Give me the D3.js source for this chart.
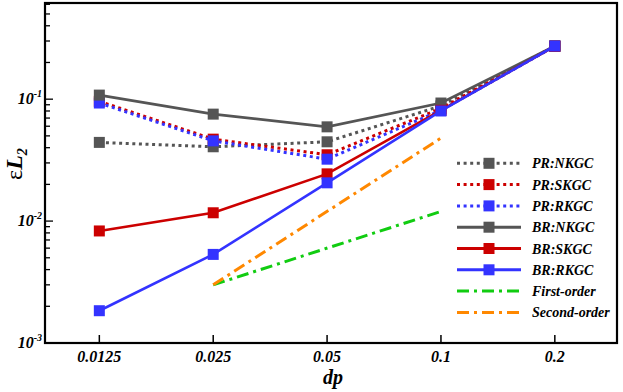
<!DOCTYPE html>
<html><head><meta charset="utf-8">
<script src="https://cdn.jsdelivr.net/npm/d3@7"></script>
<style>body{margin:0;background:#fff}svg{display:block}</style>
</head><body><svg id="c" width="623" height="392"></svg>
<script>
const dp = [0.0125, 0.025, 0.05, 0.1, 0.2];
const xTickLabels = ["0.0125", "0.025", "0.05", "0.1", "0.2"];
const yDecades = [-3, -2, -1];
const seriesNames = ["PR:NKGC","PR:SKGC","PR:RKGC","BR:NKGC","BR:SKGC","BR:RKGC","First-order","Second-order"];
const prNKGC = [0.0442, 0.0407, 0.0447, 0.088, 0.272];
const prSKGC = [0.096, 0.047, 0.0350, 0.084, 0.272];
const prRKGC = [0.093, 0.0455, 0.0322, 0.081, 0.272];
const brNKGC = [0.108, 0.0754, 0.0593, 0.093, 0.273];
const brSKGC = [0.0083, 0.0117, 0.0244, 0.081, 0.272];
const brRKGC = [0.00184, 0.00533, 0.0206, 0.080, 0.273];
const orderDp = [0.025, 0.1];
const firstOrder = [0.003, 0.012];
const secondOrder = [0.003, 0.048];

const gray="#555555", red="#cc0000", blue="#3333ff", green="#11cc11", orange="#ff8800";
const dotted="3,3.6", dashdot="12,5,3,5";
const series = [
 {name:seriesNames[0], x:dp, y:prNKGC, color:gray, dash:dotted, marker:true},
 {name:seriesNames[1], x:dp, y:prSKGC, color:red, dash:dotted, marker:true},
 {name:seriesNames[2], x:dp, y:prRKGC, color:blue, dash:dotted, marker:true},
 {name:seriesNames[3], x:dp, y:brNKGC, color:gray, dash:null, marker:true},
 {name:seriesNames[4], x:dp, y:brSKGC, color:red, dash:null, marker:true},
 {name:seriesNames[5], x:dp, y:brRKGC, color:blue, dash:null, marker:true},
 {name:seriesNames[6], x:orderDp, y:firstOrder, color:green, dash:dashdot, marker:false},
 {name:seriesNames[7], x:orderDp, y:secondOrder, color:orange, dash:dashdot, marker:false}
];

const L=45, R=617, T=3, B=343;
const x = d3.scaleLog().domain([0.00898, 0.292]).range([L, R]);
const y = d3.scaleLog().domain([1e-3, 0.615]).range([B, T]);
const svg = d3.select("#c");
const font = "'Liberation Serif','Times New Roman',serif";

const line = d3.line().x(d=>x(d[0])).y(d=>y(d[1]));
const draw = [6,7,0,1,2,3,4,5];
draw.forEach(i=>{
  const s=series[i];
  const pts=s.x.map((v,j)=>[v,s.y[j]]);
  svg.append("path").attr("d",line(pts)).attr("fill","none")
    .attr("stroke",s.color).attr("stroke-width",s.dash?3:2.6)
    .attr("stroke-dasharray",s.dash);
  if(s.marker){
    svg.selectAll(null).data(pts).enter().append("rect")
      .attr("x",d=>x(d[0])-5.5).attr("y",d=>y(d[1])-5.5)
      .attr("width",11).attr("height",11).attr("fill",s.color);
  }
});

const gx = svg.append("g");
dp.forEach((v,i)=>{
  gx.append("line").attr("x1",x(v)).attr("x2",x(v)).attr("y1",B).attr("y2",B-8).attr("stroke","#000").attr("stroke-width",1.5);
  gx.append("text").attr("x",x(v)).attr("y",362).attr("text-anchor","middle")
    .attr("font-family",font).attr("font-weight","bold").attr("font-style","italic").attr("font-size",16)
    .text(xTickLabels[i]);
});
const gy = svg.append("g");
const yMax = y.domain()[1];
yDecades.forEach(e=>{
  const base=Math.pow(10,e);
  for(let m=1;m<=9;m++){
    const v=base*m; if(v>yMax) break;
    gy.append("line").attr("x1",L).attr("x2",L+(m===1?8:5)).attr("y1",y(v)).attr("y2",y(v)).attr("stroke","#000").attr("stroke-width",1.3);
  }
  const t=gy.append("text").attr("x",42).attr("y",y(base)+5).attr("text-anchor","end")
    .attr("font-family",font).attr("font-weight","bold").attr("font-style","italic").attr("font-size",16);
  t.append("tspan").text("10");
  t.append("tspan").attr("dy",-7).attr("font-size",10).text(String(e));
});

svg.append("rect").attr("x",L).attr("y",T).attr("width",R-L).attr("height",B-T)
  .attr("fill","none").attr("stroke","#000").attr("stroke-width",2.2);

svg.append("text").attr("x",333).attr("y",384).attr("text-anchor","middle")
  .attr("font-family",font).attr("font-weight","bold").attr("font-style","italic").attr("font-size",20).text("dp");
const yt = svg.append("text").attr("transform","translate(22,164) rotate(-90)").attr("text-anchor","middle")
  .attr("font-family",font).attr("font-size",24);
yt.append("tspan").text("ε");
yt.append("tspan").attr("font-style","italic").attr("font-weight","bold").text("L");
yt.append("tspan").attr("font-style","italic").attr("font-weight","bold").attr("font-size",14).attr("dy",5).text("2");

const lg = svg.append("g");
series.forEach((s,i)=>{
  const yy = 163.3 + i*21.3;
  lg.append("line").attr("x1",457).attr("x2",521).attr("y1",yy).attr("y2",yy)
    .attr("stroke",s.color).attr("stroke-width",3).attr("stroke-dasharray",s.dash);
  if(s.marker) lg.append("rect").attr("x",489-5.5).attr("y",yy-5.5).attr("width",11).attr("height",11).attr("fill",s.color);
  lg.append("text").attr("x",532).attr("y",yy+5).attr("font-family",font).attr("font-weight","bold")
    .attr("font-style","italic").attr("font-size",14).text(s.name);
});
</script></body></html>
